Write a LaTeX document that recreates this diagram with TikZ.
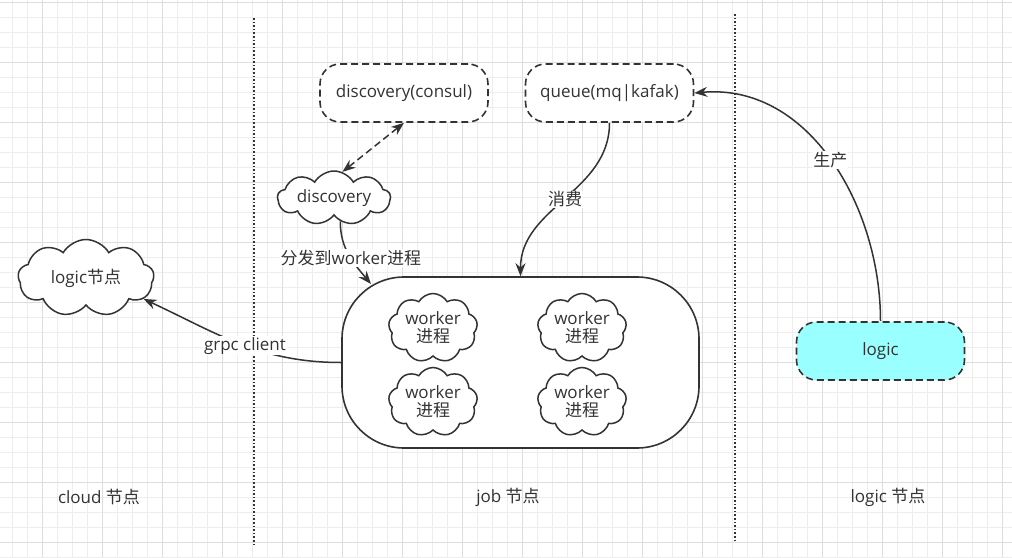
\documentclass[tikz,border=0pt]{standalone}
\usepackage{fontspec}
\setmainfont{Open Sans}
\newfontfamily\cjk{Noto Sans CJK SC}
\usetikzlibrary{shapes.symbols, arrows.meta}
\definecolor{ink}{HTML}{333333}
\definecolor{gridminor}{HTML}{EDEDED}
\definecolor{gridmajor}{HTML}{DDDDDD}
\definecolor{logicfill}{HTML}{99FFFF}

\begin{document}
\begin{tikzpicture}[x = 1pt, y = -1pt,
	every node/.style = {text = ink, font = \fontsize{17}{19}\selectfont},
	dashbox/.style = {draw = ink, line width = 1.6pt, dash pattern = on 7pt off 4pt, rounded corners = 20pt, minimum width = 168pt, minimum height = 58pt, fill = white},
	puff/.style = {cloud, cloud puffs = 9, cloud puff arc = 120, cloud ignores aspect, draw = ink, line width = 1.5pt, fill = white, inner sep = 0pt, align = center},
	link/.style = {draw = ink, line width = 1.5pt, -{Stealth[length = 13pt, width = 10pt]}},
	tag/.style = {fill = white, inner sep = 1pt}]

	\useasboundingbox (0, 0) rectangle (1012, 557);
	\fill[white] (0, 0) rectangle (1012, 557);

	% grid
	\foreach \x in {12, 27, ..., 1010} \draw[gridminor, line width = 1pt] (\x, 0) -- (\x, 557);
	\foreach \y in {2, 17, ..., 557} \draw[gridminor, line width = 1pt] (0, \y) -- (1012, \y);
	\foreach \x in {42, 102, ..., 1010} \draw[gridmajor, line width = 1pt] (\x, 0) -- (\x, 557);
	\foreach \y in {2, 62, ..., 557} \draw[gridmajor, line width = 1pt] (0, \y) -- (1012, \y);

	\draw[dotted, ink, line width = 1.6pt] (254, 18) -- (254, 544);
	\draw[dotted, ink, line width = 1.6pt] (735, 14) -- (735, 540);

	\node[dashbox] (consul) at (404, 93) {discovery(consul)};
	\node[dashbox] (queue) at (609.5, 93) {queue(mq|kafak)};
	\node[dashbox, fill = logicfill] (logic) at (880.5, 351) {logic};

	\node[puff, minimum width = 113pt, minimum height = 54pt] (disc) at (334, 198) {discovery};
	\node[puff, minimum width = 136pt, minimum height = 77pt] (cloudlogic) at (86, 278) {logic{\cjk 节点}};

	\node[draw = ink, line width = 1.6pt, fill = white, rounded corners = 62pt, minimum width = 357pt, minimum height = 171pt] (job) at (520.5, 362.5) {};

	\node[puff, minimum width = 89pt, minimum height = 69pt] (w1) at (433, 328) {worker\\[-1pt]{\cjk 进程}};
	\node[puff, minimum width = 89pt, minimum height = 69pt] (w2) at (582, 328) {worker\\[-1pt]{\cjk 进程}};
	\node[puff, minimum width = 89pt, minimum height = 69pt] (w3) at (433, 402) {worker\\[-1pt]{\cjk 进程}};
	\node[puff, minimum width = 89pt, minimum height = 69pt] (w4) at (582, 402) {worker\\[-1pt]{\cjk 进程}};

	\coordinate (jobtip) at (371, 284);

	\draw[link, {Stealth[length = 13pt, width = 10pt]}-{Stealth[length = 13pt, width = 10pt]}, dash pattern = on 7pt off 4pt] (disc.72) -- (consul.south);
	\draw[link] (disc.-75) to[out = -90, in = 130] node[tag, pos = 0.55] {{\cjk 分发到}worker{\cjk 进程}} (jobtip);
	\draw[link] (queue.south) to[out = -90, in = 90] node[tag, pos = 0.5] {\cjk 消费} (job.north);
	\draw[link] (logic.north) to[out = 90, in = 5] node[tag, pos = 0.5] {\cjk 生产} (queue.east);
	\draw[link] (job.west) to[out = 180, in = -25] node[tag, pos = 0.47] {grpc client} (cloudlogic.-20);

	\node (cloudlabel) at (99, 497) {cloud {\cjk 节点}};
	\node (joblabel) at (508, 497) {job {\cjk 节点}};
	\node (logiclabel) at (888, 497) {logic {\cjk 节点}};

\end{tikzpicture}
\end{document}
